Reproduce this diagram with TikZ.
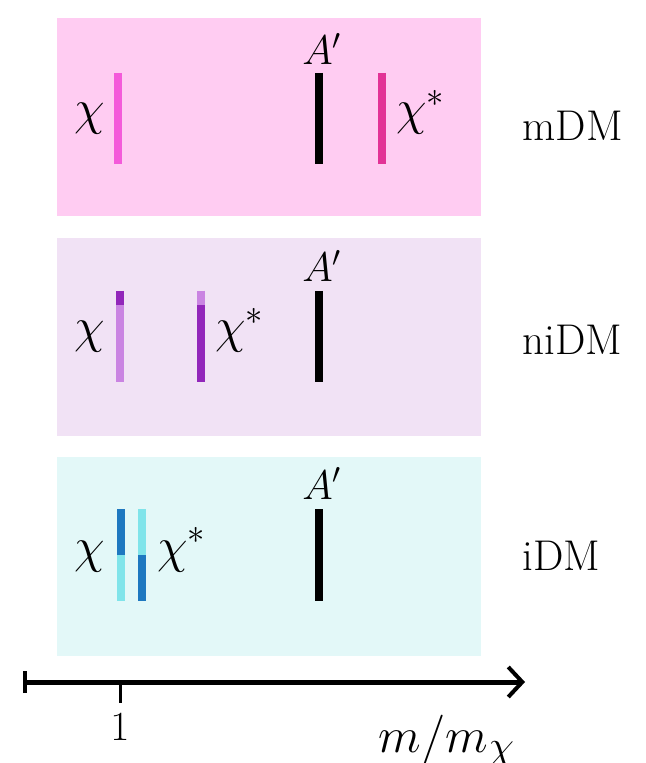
\documentclass[tikz,border=0pt]{standalone}
\usepackage{tikz}
\usetikzlibrary{arrows.meta}
\definecolor{mdmbg}{RGB}{255,204,242}
\definecolor{nidmbg}{RGB}{241,226,245}
\definecolor{idmbg}{RGB}{227,248,248}
\definecolor{mdmlight}{RGB}{244,90,218}
\definecolor{mdmdark}{RGB}{226,50,150}
\definecolor{nidmlight}{RGB}{202,132,226}
\definecolor{nidmdark}{RGB}{146,38,186}
\definecolor{idmlight}{RGB}{128,228,234}
\definecolor{idmdark}{RGB}{30,120,192}
\tikzset{
  band/.style={draw=white,line width=1pt},
  level/.style={line width=4pt},
  chilabel/.style={inner sep=0pt,font=\fontsize{24}{28}\selectfont},
  aplabel/.style={inner sep=0pt,anchor=base,font=\fontsize{21}{25}\selectfont},
  modellabel/.style={inner sep=0pt,anchor=west,font=\fontsize{21.5}{25}\selectfont},
  axislabel/.style={inner sep=0pt,font=\fontsize{21}{25}\selectfont}
}

\begin{document}
\begin{tikzpicture}[x=0.5pt,y=-0.5pt]
  \path[use as bounding box] (0,0) rectangle (645,763);
  % three bands, one per model
  \fill[mdmbg,band] (56,17) rectangle (482,217);
  \fill[nidmbg,band] (56,237) rectangle (482,437);
  \fill[idmbg,band] (56,456) rectangle (482,657);

  % mDM
  \draw[level,mdmlight] (118,73)--(118,164);
  \draw[level,black] (319,73)--(319,164);
  \draw[level,mdmdark] (382,73)--(382,164);
  \node[chilabel,anchor=base east] (chi1) at (105,125) {$\chi$};
  \node[aplabel] (ap1) at (322,65) {$A'$};
  \node[chilabel,anchor=base west] (chis1) at (396,125) {$\chi^*$};
  \node[modellabel] (mdm) at (522,126) {mDM};

  % niDM
  \draw[level,nidmlight] (120,291)--(120,382);
  \draw[level,nidmdark] (120,291)--(120,305);
  \draw[level,nidmdark] (201,291)--(201,382);
  \draw[level,nidmlight] (201,291)--(201,305);
  \draw[level,black] (319,291)--(319,382);
  \node[chilabel,anchor=base east] (chi2) at (105,343) {$\chi$};
  \node[chilabel,anchor=base west] (chis2) at (215,343) {$\chi^*$};
  \node[aplabel] (ap2) at (322,282) {$A'$};
  \node[modellabel] (nidm) at (522,340) {niDM};

  % iDM
  \draw[level,idmdark] (121,509)--(121,555);
  \draw[level,idmlight] (121,555)--(121,601);
  \draw[level,idmlight] (142,509)--(142,555);
  \draw[level,idmdark] (142,555)--(142,601);
  \draw[level,black] (319,509)--(319,601);
  \node[chilabel,anchor=base east] (chi3) at (105,562) {$\chi$};
  \node[chilabel,anchor=base west] (chis3) at (157,562) {$\chi^*$};
  \node[aplabel] (ap3) at (322,499) {$A'$};
  \node[modellabel] (idm) at (522,556) {iDM};

  % mass axis
  \coordinate (ax0) at (23,682);
  \coordinate (ax1) at (525,682);
  \draw[line width=2.5pt,{Bar[width=11pt,line width=2pt]}-{Straight Barb[length=7pt,width=15pt,line width=2pt]}] (ax0)--(ax1);
  \coordinate (tick) at (120,682);
  \draw[line width=1.5pt] (tick)--++(0,21);
  \node[axislabel] (one) at (120,727) {$1$};
  \node[axislabel,anchor=base,font=\fontsize{28}{32}\selectfont] (mass) at (447,752) {$m/m_\chi$};
\end{tikzpicture}
\end{document}
